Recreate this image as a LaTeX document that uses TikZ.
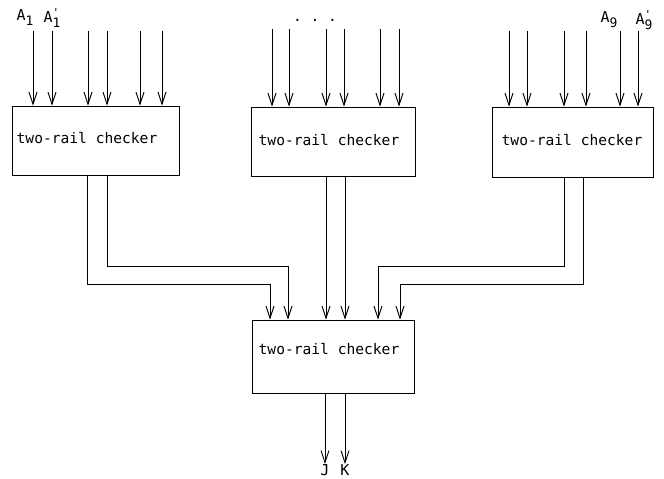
\documentclass[tikz,border=0pt]{standalone}
\usepackage{fontspec}
\setmonofont{DejaVu Sans Mono}
\usetikzlibrary{arrows.meta}
\newcommand\siglab[2]{A\makebox[0pt][l]{\raisebox{6pt}{\fontsize{11}{11}\selectfont#2}}\raisebox{-5pt}{\fontsize{13}{13}\selectfont#1}}
\begin{document}
\begin{tikzpicture}[x=1pt,y=-1pt,line width=0.9pt,
  >={Straight Barb[length=12pt,width=8pt,line width=0.9pt]},
  box/.style={draw,inner sep=0pt},
  txt/.style={font=\ttfamily\fontsize{14.6}{17}\selectfont,inner sep=0pt},
  sig/.style={font=\ttfamily\fontsize{15}{17}\selectfont,inner sep=0pt}]
\useasboundingbox (0,0) rectangle (664,479);
% boxes
\node[box,minimum width=167pt,minimum height=69pt] (b1) at (95.5,140.5) {};
\node[box,minimum width=164pt,minimum height=69pt] (b2) at (333,141.5) {};
\node[box,minimum width=161pt,minimum height=70pt] (b3) at (572.5,142) {};
\node[box,minimum width=162pt,minimum height=73pt] (b4) at (333,356.5) {};
\node[txt] (t1) at (87,138) {two-rail checker};
\node[txt] (t2) at (329,140) {two-rail checker};
\node[txt] (t3) at (572,140) {two-rail checker};
\node[txt] (t4) at (329,349) {two-rail checker};
% inputs
\foreach \x in {33,52,88,107,140,162} \draw[->] (\x,31) -- (b1.north -| \x,0);
\foreach \x in {272,289,326,344,380,399} \draw[->] (\x,29) -- (b2.north -| \x,0);
\foreach \x in {509,527,564,586,620,638} \draw[->] (\x,31) -- (b3.north -| \x,0);
% labels
\node[sig] (a1) at (25,18) {\siglab{1}{}};
\node[sig] (a1p) at (52,18) {\siglab{1}{'}};
\node[sig] (a9) at (609,20) {\siglab{9}{}};
\node[sig] (a9p) at (644,20) {\siglab{9}{'}};
\node[txt,anchor=base] (dots) at (315,21) {. . .};
% connections
\draw[->] (b1.south -| 87,0) -- (87,284) -- (270,284) -- (b4.north -| 270,0);
\draw[->] (b1.south -| 107,0) -- (107,266) -- (288,266) -- (b4.north -| 288,0);
\draw[->] (b2.south -| 326,0) -- (b4.north -| 326,0);
\draw[->] (b2.south -| 345,0) -- (b4.north -| 345,0);
\draw[->] (b3.south -| 564,0) -- (564,266) -- (378,266) -- (b4.north -| 378,0);
\draw[->] (b3.south -| 583,0) -- (583,284) -- (400,284) -- (b4.north -| 400,0);
% outputs
\node[sig] (j) at (325,470) {J};
\node[sig] (k) at (345,470) {K};
\draw[->] (b4.south -| 325,0) -- (j.north);
\draw[->] (b4.south -| 345,0) -- (k.north);
\end{tikzpicture}
\end{document}
